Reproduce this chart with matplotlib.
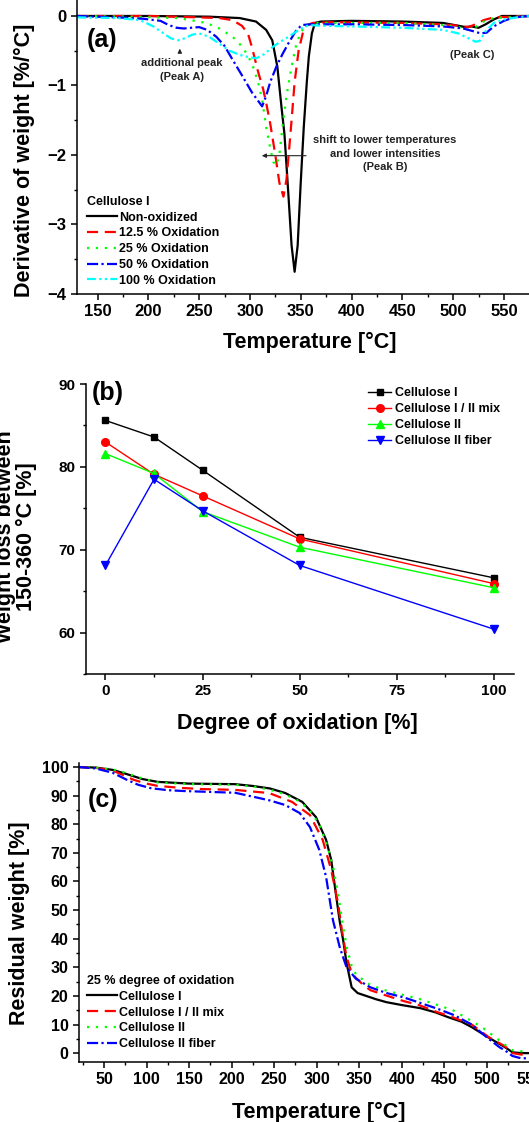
import matplotlib
matplotlib.use("Agg")
import matplotlib.pyplot as plt
from matplotlib.ticker import MultipleLocator

plt.rcParams['font.family'] = ['Liberation Sans', 'DejaVu Sans']
plt.rcParams['font.weight'] = 'bold'

# ---- (a) DTG curves, Cellulose I at different oxidation degrees ----
t_non = [130, 200, 260, 290, 306, 316, 322, 327, 331, 334, 338, 341, 344, 347, 350, 353, 356, 358, 361, 364, 370,
         400, 450, 490, 505, 512, 518, 525, 532, 540, 548, 575]
d_non = [0, 0, -0.01, -0.03, -0.08, -0.2, -0.35, -0.73, -1.3, -1.7, -2.6, -3.3, -3.68, -3.3, -2.4, -1.6, -0.95,
         -0.58, -0.25, -0.1, -0.08, -0.07, -0.08, -0.1, -0.14, -0.16, -0.15, -0.17, -0.12, -0.05, 0, 0]
t_125 = [130, 200, 250, 270, 283, 292, 298, 302, 308, 313, 316, 320, 325, 329, 333, 336, 339, 341, 344, 348, 352,
         356, 362, 380, 450, 490, 505, 515, 522, 530, 540, 575]
d_125 = [0, 0, -0.02, -0.03, -0.06, -0.14, -0.25, -0.45, -0.8, -1.05, -1.25, -1.55, -2.0, -2.4, -2.6, -2.35, -1.85,
         -1.5, -0.95, -0.49, -0.25, -0.13, -0.1, -0.09, -0.1, -0.12, -0.14, -0.16, -0.12, -0.06, -0.02, 0]
t_25 = [130, 180, 230, 257, 270, 283, 293, 302, 308, 312, 316, 320, 323, 326, 329, 332, 336, 341, 345, 350, 356,
        365, 400, 450, 490, 505, 515, 522, 530, 540, 575]
d_25 = [0, -0.01, -0.03, -0.1, -0.18, -0.3, -0.45, -0.68, -0.95, -1.2, -1.6, -1.9, -2.1, -2.15, -2.0, -1.6, -1.15,
        -0.73, -0.45, -0.23, -0.13, -0.1, -0.1, -0.1, -0.13, -0.16, -0.2, -0.16, -0.08, -0.03, 0]
t_50 = [130, 170, 195, 212, 220, 228, 235, 242, 250, 258, 267, 275, 283, 292, 302, 308, 312, 316, 320, 326, 332,
        338, 345, 351, 360, 400, 450, 490, 510, 520, 527, 533, 540, 550, 560, 575]
d_50 = [0, -0.02, -0.04, -0.07, -0.13, -0.17, -0.18, -0.17, -0.16, -0.2, -0.3, -0.43, -0.63, -0.85, -1.1, -1.22,
        -1.3, -1.15, -0.95, -0.73, -0.55, -0.39, -0.22, -0.13, -0.12, -0.12, -0.13, -0.15, -0.18, -0.22, -0.25,
        -0.24, -0.15, -0.07, -0.02, 0]
t_100 = [130, 170, 192, 205, 215, 222, 229, 236, 243, 250, 260, 270, 280, 290, 298, 306, 314, 322, 330, 338, 348,
         358, 370, 400, 450, 490, 505, 515, 522, 526, 532, 540, 550, 563, 575]
d_100 = [-0.02, -0.03, -0.06, -0.15, -0.25, -0.32, -0.35, -0.32, -0.27, -0.25, -0.3, -0.4, -0.5, -0.56, -0.59,
         -0.61, -0.55, -0.45, -0.37, -0.3, -0.2, -0.13, -0.14, -0.15, -0.17, -0.2, -0.25, -0.32, -0.37, -0.36,
         -0.22, -0.1, -0.05, -0.02, 0]

# ---- (b) weight loss between 150-360 °C ----
oxidation = [0, 12.5, 25, 50, 100]
loss_cel1 = [85.6, 83.6, 79.6, 71.5, 66.6]
loss_mix = [83.0, 79.1, 76.5, 71.3, 65.9]
loss_cel2 = [81.6, 79.2, 74.6, 70.3, 65.4]
loss_fiber = [68.1, 78.5, 74.7, 68.1, 60.4]

# ---- (c) TG curves, 25 % oxidation ----
t_tg1 = [20, 40, 60, 77, 95, 113, 150, 204, 224, 245, 263, 283, 299, 311, 317, 323, 327, 331, 335, 341, 348, 355,
         370, 382, 400, 422, 440, 454, 470, 482, 501, 521, 530, 540, 570]
w_tg1 = [100, 99.8, 99, 97.5, 95.8, 94.8, 94.2, 94.0, 93.4, 92.5, 90.9, 87.8, 82.5, 74.5, 67.5, 54.5, 46, 39.5,
         31.5, 23, 21, 20.3, 18.8, 17.8, 16.8, 15.7, 14.2, 12.6, 11, 9.1, 5.6, 2.1, 0.3, 0, 0]
t_tgm = [20, 40, 60, 85, 100, 113, 140, 164, 204, 244, 271, 292, 307, 317, 325, 330, 335, 340, 345, 354, 363, 380,
         402, 420, 442, 460, 482, 502, 521, 530, 540, 570]
w_tgm = [100, 99.7, 98.8, 95.5, 94.2, 93.4, 92.7, 92.3, 92.0, 90.9, 87.8, 83.2, 74.5, 64, 52.4, 42, 33.6, 29, 26.6,
         24, 22, 20.3, 18.2, 16.8, 14.3, 12.5, 10.0, 5.6, 2.4, 0, -0.5, -0.5]
t_tg2 = [20, 40, 60, 77, 95, 113, 150, 204, 230, 255, 275, 290, 303, 313, 320, 326, 331, 336, 341, 346, 355, 363,
         380, 402, 420, 442, 460, 474, 494, 510, 521, 530, 545, 570]
w_tg2 = [100, 99.8, 99.2, 97.8, 96, 94.6, 94.0, 93.8, 93.0, 91.3, 88.8, 85.5, 80, 72, 64, 54, 44, 36, 30.5, 27.5,
         25.5, 23.8, 22, 20.3, 19, 16.8, 15, 12.6, 9.1, 5.5, 3, 1, 0.5, 0.5]
t_tgf = [20, 40, 60, 77, 90, 105, 125, 144, 204, 227, 245, 263, 280, 292, 303, 311, 319, 327, 335, 346, 363, 382,
         402, 422, 442, 462, 482, 502, 515, 521, 530, 540, 570]
w_tgf = [100, 99.5, 98, 95.5, 93.8, 92.6, 91.9, 91.6, 91.0, 89.5, 88.3, 86.7, 83.9, 79, 71, 61.5, 46.5, 37, 30, 26,
         23, 21, 19.5, 17.5, 15.5, 13.2, 10, 5, 2, 1, -1, -1.8, -1.8]

W, H = 529, 1122
fig = plt.figure(figsize=(W / 100, H / 100), dpi=100)


def box(x0, y0, x1, y1):
    # pixel box (top-left origin) -> figure fraction
    return [x0 / W, 1 - y1 / H, (x1 - x0) / W, (y1 - y0) / H]


def style(ax, fs):
    for s in ['top', 'right']:
        ax.spines[s].set_visible(False)
    for s in ['left', 'bottom']:
        ax.spines[s].set_linewidth(1.1)
    ax.tick_params(which='major', direction='out', length=4.5, width=1.1, labelsize=fs, pad=3)
    ax.tick_params(which='minor', direction='out', length=2.5, width=1.0)
    for lab in ax.get_xticklabels() + ax.get_yticklabels():
        lab.set_fontweight('bold')


lw = 1.6
ann_col = '#222222'

# ---------------- (a) ----------------
ax = fig.add_axes(box(77, 0, 529, 294))
ax.plot(t_non, d_non, color='black', lw=lw, ls='-', label='Non-oxidized')
ax.plot(t_125, d_125, color='#ff0000', lw=lw, ls=(0, (5, 3)), label='12.5 % Oxidation')
ax.plot(t_25, d_25, color='#00ff00', lw=lw, ls=(0, (1, 3)), label='25 % Oxidation')
ax.plot(t_50, d_50, color='#0000ff', lw=lw, ls=(0, (5, 1.5, 1, 1.5)), label='50 % Oxidation')
ax.plot(t_100, d_100, color='#00ffff', lw=lw, ls=(0, (4, 1.5, 1, 1.5, 1, 1.5)), label='100 % Oxidation')
ax.set_xlim(129.8, 574.7)
ax.set_ylim(-4, 0.23)
ax.xaxis.set_major_locator(MultipleLocator(50))
ax.xaxis.set_minor_locator(MultipleLocator(25))
ax.yaxis.set_major_locator(MultipleLocator(1))
ax.yaxis.set_minor_locator(MultipleLocator(0.5))
style(ax, 12)
ax.text(0.055, 0.865, '(a)', transform=ax.transAxes, fontsize=18, fontweight='bold', ha='center', va='center')
ax.annotate('', xy=(231, -0.43), xytext=(231, -0.56),
            arrowprops=dict(arrowstyle='-|>', color=ann_col, lw=0.8, mutation_scale=6))
ax.text(233, -0.78, 'additional peak\n(Peak A)', fontsize=8, color=ann_col, ha='center', va='center',
        linespacing=1.5)
ax.text(519, -0.56, '(Peak C)', fontsize=8, color=ann_col, ha='center', va='center')
ax.annotate('', xy=(309, -2.01), xytext=(358, -2.01),
            arrowprops=dict(arrowstyle='-|>', color=ann_col, lw=0.8, mutation_scale=6))
ax.text(433, -1.98, 'shift to lower temperatures\nand lower intensities\n(Peak B)', fontsize=8,
        color=ann_col, ha='center', va='center', linespacing=1.45)
leg = ax.legend(loc='upper left', bbox_to_anchor=(87 / W, 1 - 196 / H), bbox_transform=fig.transFigure,
                frameon=False, fontsize=9, title='Cellulose I', title_fontsize=9, alignment='left',
                handlelength=2.4, handletextpad=0.15, labelspacing=0.3, borderpad=0, borderaxespad=0)
leg.get_title().set_fontweight('bold')
fig.text(310 / W, 1 - 342 / H, 'Temperature [°C]', fontsize=15.5, fontweight='bold', ha='center', va='center')
fig.text(24 / W, 1 - 160 / H, 'Derivative of weight [%/°C]', fontsize=15.5, fontweight='bold',
         ha='center', va='center', rotation=90)

# ---------------- (b) ----------------
ax = fig.add_axes(box(86, 384, 513.5, 674))
ax.plot(oxidation, loss_cel1, color='black', lw=1, marker='s', ms=5, label='Cellulose I')
ax.plot(oxidation, loss_mix, color='#ff0000', lw=1, marker='o', ms=5.5, label='Cellulose I / II mix')
ax.plot(oxidation, loss_cel2, color='#00ff00', lw=1, marker='^', ms=6, label='Cellulose II')
ax.plot(oxidation, loss_fiber, color='#0000ff', lw=1, marker='v', ms=6, label='Cellulose II fiber')
ax.set_xlim(-5, 105)
ax.set_ylim(55, 90)
ax.xaxis.set_major_locator(MultipleLocator(25))
ax.xaxis.set_minor_locator(MultipleLocator(12.5))
ax.yaxis.set_major_locator(MultipleLocator(10))
ax.yaxis.set_minor_locator(MultipleLocator(5))
style(ax, 11)
fig.text(108 / W, 1 - 393 / H, '(b)', fontsize=18, fontweight='bold', ha='center', va='center')
ax.legend(loc='upper left', bbox_to_anchor=(368 / W, 1 - 387 / H), bbox_transform=fig.transFigure,
          frameon=False, fontsize=9, handlelength=1.85, handletextpad=0.3, labelspacing=0.32, borderpad=0,
          borderaxespad=0)
fig.text(297 / W, 1 - 723 / H, 'Degree of oxidation [%]', fontsize=15.5, fontweight='bold', ha='center',
         va='center')
fig.text(16 / W, 1 - 537 / H, 'Weight loss between\n150-360 °C [%]', fontsize=15.5, fontweight='bold',
         ha='center', va='center', rotation=90, linespacing=1.05)

# ---------------- (c) ----------------
# axes run a bit past the right edge, so the 550 label is cut as in the original
ax = fig.add_axes(box(79, 763, 545, 1062))
ax.plot(t_tg1, w_tg1, color='black', lw=lw, ls='-', label='Cellulose I')
ax.plot(t_tgm, w_tgm, color='#ff0000', lw=lw, ls=(0, (5, 3)), label='Cellulose I / II mix')
ax.plot(t_tg2, w_tg2, color='#00ff00', lw=lw, ls=(0, (1, 3)), label='Cellulose II')
ax.plot(t_tgf, w_tgf, color='#0000ff', lw=lw, ls=(0, (5, 1.5, 1, 1.5)), label='Cellulose II fiber')
ax.set_xlim(20.6, 568.2)
ax.set_ylim(-3.1, 101.4)
ax.xaxis.set_major_locator(MultipleLocator(50))
ax.xaxis.set_minor_locator(MultipleLocator(25))
ax.yaxis.set_major_locator(MultipleLocator(10))
ax.yaxis.set_minor_locator(MultipleLocator(5))
style(ax, 11.5)
fig.text(103 / W, 1 - 800 / H, '(c)', fontsize=18, fontweight='bold', ha='center', va='center')
leg = ax.legend(loc='upper left', bbox_to_anchor=(87 / W, 1 - 975 / H), bbox_transform=fig.transFigure,
                frameon=False, fontsize=9, title='25 % degree of oxidation', title_fontsize=9, alignment='left',
                handlelength=2.4, handletextpad=0.15, labelspacing=0.3, borderpad=0, borderaxespad=0)
leg.get_title().set_fontweight('bold')
fig.text(319 / W, 1 - 1112 / H, 'Temperature [°C]', fontsize=15.5, fontweight='bold', ha='center', va='center')
fig.text(20 / W, 1 - 923 / H, 'Residual weight [%]', fontsize=15.5, fontweight='bold', ha='center',
         va='center', rotation=90)

fig.savefig('out.png', dpi=100)
